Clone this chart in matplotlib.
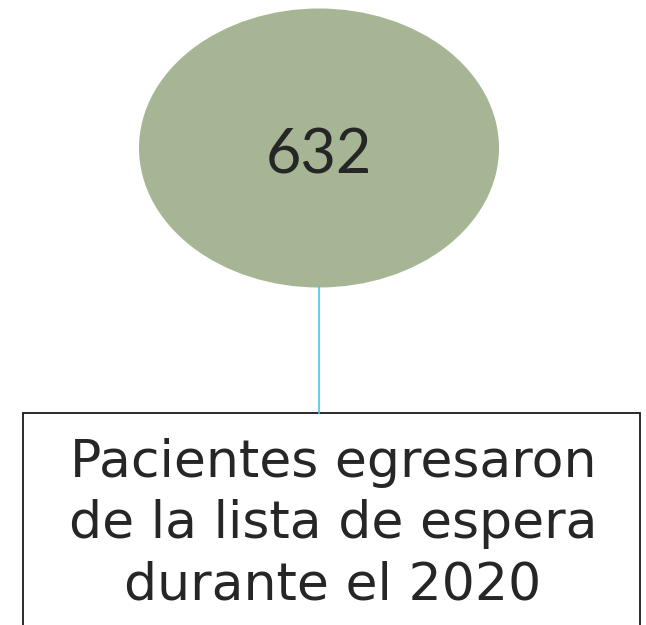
import matplotlib
matplotlib.use("Agg")
import matplotlib.pyplot as plt
from matplotlib.patches import Ellipse, Rectangle

# contenido del diagrama
valor = "632"
etiqueta = ["Pacientes egresaron", "de la lista de espera", "durante el 2020"]

color_elipse = "#a6b594"
color_linea = "#4fc3e8"
color_texto = "#262626"

fig = plt.figure(figsize=(6.46, 6.25), dpi=100)
ax = fig.add_axes([0, 0, 1, 1])
ax.set_xlim(0, 646)
ax.set_ylim(625, 0)
ax.axis("off")

# elipse con el numero
ax.add_patch(Ellipse((319, 148), 360, 279, facecolor=color_elipse, edgecolor="none"))
ax.text(319, 173, valor, ha="center", va="baseline", fontsize=44,
        family="Lato", color=color_texto)

# conector
ax.plot([319, 319], [287, 413], color=color_linea, lw=1.2)

# caja con la etiqueta (cortada abajo)
ax.add_patch(Rectangle((23, 413), 617, 260, facecolor="white",
                       edgecolor="#1a1a1a", lw=1.3))
bases = [477, 538, 600]
for linea, y in zip(etiqueta, bases):
    ax.text(333, y, linea, ha="center", va="baseline", fontsize=37.5,
            family="DejaVu Sans", color=color_texto)

fig.savefig("out.png", dpi=100)
